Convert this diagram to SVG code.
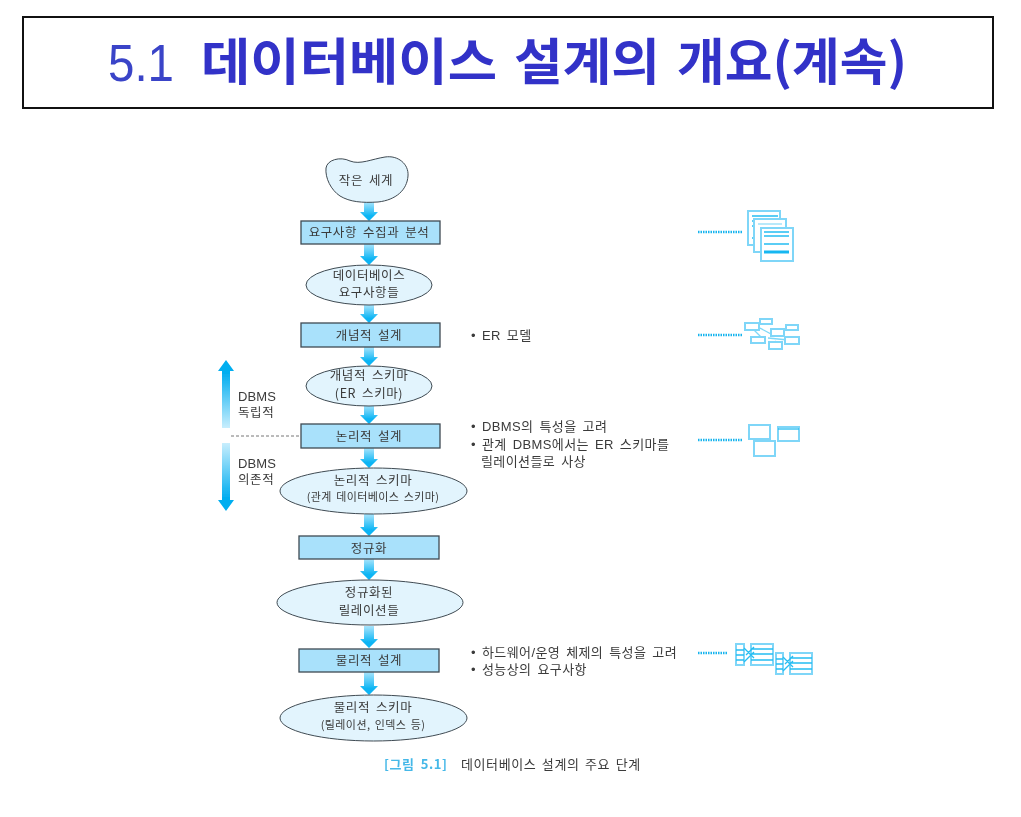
<svg xmlns="http://www.w3.org/2000/svg" width="1021" height="817" viewBox="0 0 1021 817">
<style>
text{font-family:"Noto Sans CJK KR","Liberation Sans",sans-serif;fill:#3a3a3a;font-size:12.5px;letter-spacing:.6px;word-spacing:2.500px}
.c{text-anchor:middle}
.t{fill:#3232c8;font-size:50px;font-weight:700;letter-spacing:0;word-spacing:0}
.n{fill:#3a44c8;font-size:52px;font-family:"Liberation Sans",sans-serif;letter-spacing:0;word-spacing:0}
.l{font-family:"Liberation Sans","Noto Sans CJK KR",sans-serif;font-size:13px;letter-spacing:.4px;word-spacing:2px}
.s{font-size:11px;letter-spacing:.4px;word-spacing:1.500px}
.r{fill:#a9e1fb;stroke:#3f4a52;stroke-width:1.3}
.e{fill:#e2f4fd;stroke:#3f4a52;stroke-width:1}
.dot{stroke:#18b4ee;stroke-width:2.500;stroke-dasharray:1.5 1;fill:none}
.i{fill:#fff;stroke:#7fd6f8;stroke-width:2}
.d{fill:none;stroke:#25bdf2;stroke-width:1.300}
</style>
<defs>
<filter id="b" x="-5%" y="-5%" width="110%" height="110%"><feGaussianBlur stdDeviation="0.5"/></filter>
<linearGradient id="a" x1="0" y1="0" x2="0" y2="1"><stop offset="0" stop-color="#a8e4fc"/><stop offset="0.75" stop-color="#08b4f4"/></linearGradient>
<linearGradient id="up" x1="0" y1="1" x2="0" y2="0"><stop offset="0" stop-color="#c8eefd"/><stop offset="0.8" stop-color="#04aef0"/></linearGradient>
<linearGradient id="down" x1="0" y1="0" x2="0" y2="1"><stop offset="0" stop-color="#c8eefd"/><stop offset="0.8" stop-color="#04aef0"/></linearGradient>
</defs>
<rect width="1021" height="817" fill="#fff"/>
<g id="title">
<rect x="23" y="17" width="970" height="91" fill="#fff" stroke="#111" stroke-width="2"/>
<text class="n" x="108" y="81" textLength="66" lengthAdjust="spacingAndGlyphs">5.1</text>
<text class="t" x="201" y="80" textLength="296" lengthAdjust="spacingAndGlyphs">데이터베이스</text>
<text class="t" x="514" y="80" textLength="146" lengthAdjust="spacingAndGlyphs">설계의</text>
<text class="t" x="677" y="80" textLength="230" lengthAdjust="spacingAndGlyphs">개요(계속)</text>
</g>
<g filter="url(#b)">
<g id="connectors">
<path fill="url(#a)" d="M364 202h10v10h4l-9 9-9-9h4z"/>
<path fill="url(#a)" d="M364 244h10v12h4l-9 9-9-9h4z"/>
<path fill="url(#a)" d="M364 305h10v9h4l-9 9-9-9h4z"/>
<path fill="url(#a)" d="M364 347h10v10h4l-9 9-9-9h4z"/>
<path fill="url(#a)" d="M364 405h10v10h4l-9 9-9-9h4z"/>
<path fill="url(#a)" d="M364 448h10v11h4l-9 9-9-9h4z"/>
<path fill="url(#a)" d="M364 514h10v13h4l-9 9-9-9h4z"/>
<path fill="url(#a)" d="M364 559h10v12h4l-9 9-9-9h4z"/>
<path fill="url(#a)" d="M364 626h10v13h4l-9 9-9-9h4z"/>
<path fill="url(#a)" d="M364 672h10v14h4l-9 9-9-9h4z"/>
<path fill="url(#up)" d="M222 428v-57h-4l8-11 8 11h-4v57z"/>
<path fill="url(#down)" d="M222 443v57h-4l8 11 8-11h-4v-57z"/>
<path d="M231 436H301" stroke="#777" stroke-width="1" stroke-dasharray="3 2" fill="none"/>
<path class="dot" d="M698 232h44M698 335h44M698 440h44M698 653h30"/>
</g>
<g id="world"><path class="e" d="M326 168C327 160 340 156 350 161C360 165 372 159 385 157C398 155 409 164 408 176C407 190 396 200 378 202C362 203 350 202 340 196C331 190 325 178 326 168Z"/><text class="c" x="366" y="185">작은 세계</text></g>
<g id="req"><rect class="r" x="301" y="221" width="139" height="23"/><text class="c" x="369" y="237">요구사항 수집과 분석</text></g>
<g id="dbreq"><ellipse class="e" cx="369" cy="285" rx="63" ry="20"/><text class="c" x="369" y="280">데이터베이스</text><text class="c" x="369" y="297">요구사항들</text></g>
<g id="concept"><rect class="r" x="301" y="323" width="139" height="24"/><text class="c" x="369" y="340">개념적 설계</text></g>
<g id="cschema"><ellipse class="e" cx="369" cy="386" rx="63" ry="20"/><text class="c" x="369" y="380">개념적 스키마</text><text class="c" x="369" y="398">(ER 스키마)</text></g>
<g id="logic"><rect class="r" x="301" y="424" width="139" height="24"/><text class="c" x="369" y="441">논리적 설계</text></g>
<g id="lschema"><ellipse class="e" cx="373.500" cy="491" rx="93.500" ry="23"/><text class="c" x="373" y="485">논리적 스키마</text><text class="c s" x="373" y="501">(관계 데이터베이스 스키마)</text></g>
<g id="norm"><rect class="r" x="299" y="536" width="140" height="23"/><text class="c" x="369" y="553">정규화</text></g>
<g id="nrel"><ellipse class="e" cx="370" cy="602.500" rx="93" ry="22.500"/><text class="c" x="369" y="597">정규화된</text><text class="c" x="369" y="615">릴레이션들</text></g>
<g id="phys"><rect class="r" x="299" y="649" width="140" height="23"/><text class="c" x="369" y="665">물리적 설계</text></g>
<g id="pschema"><ellipse class="e" cx="373.500" cy="718" rx="93.500" ry="23"/><text class="c" x="373" y="712">물리적 스키마</text><text class="c s" x="373" y="729">(릴레이션, 인덱스 등)</text></g>
<g id="side-labels">
<text class="l" x="238" y="401" style="letter-spacing:.1px">DBMS</text><text x="238" y="417">독립적</text>
<text class="l" x="238" y="468" style="letter-spacing:.1px">DBMS</text><text x="238" y="484">의존적</text>
<text class="l" x="471" y="340">• ER 모델</text>
<text class="l" x="471" y="431">• DBMS의 특성을 고려</text>
<text class="l" x="471" y="449">• 관계 DBMS에서는 ER 스키마를</text>
<text class="l" x="481" y="466">릴레이션들로 사상</text>
<text class="l" x="471" y="657">• 하드웨어/운영 체제의 특성을 고려</text>
<text class="l" x="471" y="674">• 성능상의 요구사항</text>
</g>
<g id="caption"><text x="384" y="769" style="fill:#45b8e8;font-size:13px;font-weight:700;letter-spacing:.6px">[그림 5.1]</text><text x="461" y="769" style="font-size:13px;letter-spacing:.6px;word-spacing:2px">데이터베이스 설계의 주요 단계</text></g>
<g id="icon-docs">
<rect class="i" x="748" y="211" width="32" height="34"/><path class="d" d="M752 216h26M752 221h8M752 226h8M752 238h4"/>
<rect class="i" x="754" y="219" width="32" height="33"/><path class="d" d="M758 224h24" opacity=".5"/>
<rect class="i" x="761" y="228" width="32" height="33"/><path class="d" d="M764 232h25M764 236h25M764 244h25"/><path d="M764 252h25" stroke="#19b7f1" stroke-width="3"/>
</g>
<g id="icon-er">
<path class="d" d="M756 326l15 8M752 328l10 10M768 338l20 2M772 345l4 -4" opacity=".6"/>
<rect class="i" x="745" y="323" width="14" height="7"/><rect class="i" x="760" y="319" width="12" height="5"/><rect class="i" x="771" y="329" width="13" height="7"/><rect class="i" x="786" y="325" width="12" height="5"/><rect class="i" x="751" y="337" width="14" height="6"/><rect class="i" x="769" y="342" width="13" height="7"/><rect class="i" x="785" y="337" width="14" height="7"/>
</g>
<g id="icon-rel">
<rect class="i" x="749" y="425" width="21" height="14"/><rect class="i" x="778" y="427" width="21" height="14"/><path class="d" d="M778 429h21"/><rect class="i" x="754" y="441" width="21" height="15"/>
</g>
<g id="icon-phys">
<rect class="i" x="736" y="644" width="8" height="21"/><rect class="i" x="751" y="644" width="22" height="21"/><path class="d" d="M736 650h8M736 655h8M736 660h8M751 649h22M751 654h22M751 660h22M744 648l10 10M744 662l10-10M746 655l8-8"/>
<rect class="i" x="776" y="653" width="7" height="21"/><rect class="i" x="790" y="653" width="22" height="21"/><path class="d" d="M776 659h7M776 664h7M776 669h7M790 658h22M790 663h22M790 669h22M783 657l10 10M783 671l10-10M785 664l8-8"/>
</g>
</g>
</svg>
